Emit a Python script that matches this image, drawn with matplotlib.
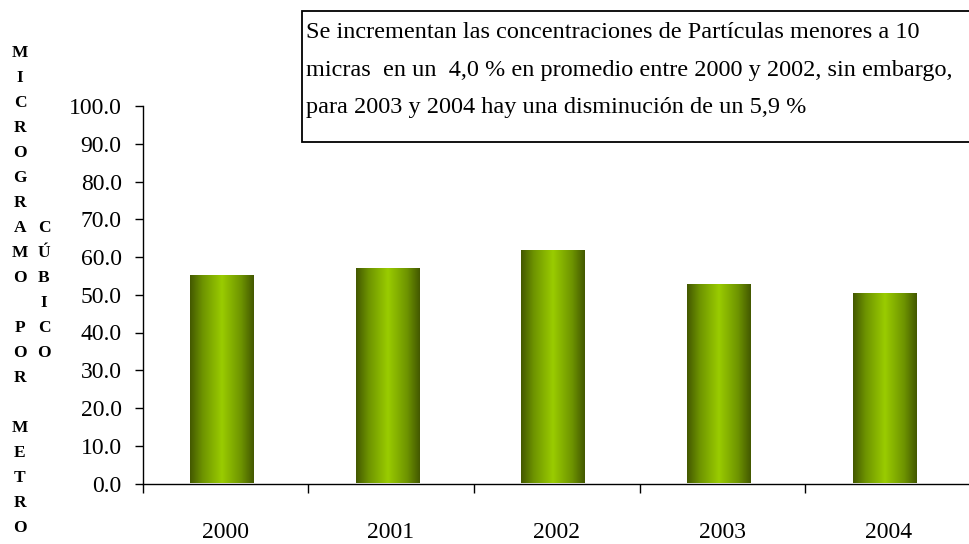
import numpy as np
import matplotlib
matplotlib.use("Agg")
import matplotlib.pyplot as plt
from matplotlib.colors import LinearSegmentedColormap
from matplotlib.patches import Rectangle

# datos
years = ["2000", "2001", "2002", "2003", "2004"]
pm10 = [55.2, 57.1, 61.9, 52.8, 50.4]
y_ticks = [0, 10, 20, 30, 40, 50, 60, 70, 80, 90, 100]
col1 = ["M", "I", "C", "R", "O", "G", "R", "A", "M", "O", "",
        "P", "O", "R", "", "M", "E", "T", "R", "O"]
col2 = ["C", "Ú", "B", "I", "C", "O"]
note_lines = [
    "Se incrementan las concentraciones de Partículas menores a 10",
    "micras  en un  4,0 % en promedio entre 2000 y 2002, sin embargo,",
    "para 2003 y 2004 hay una disminución de un 5,9 %",
]

plt.rcParams["font.family"] = ["Liberation Serif", "DejaVu Serif"]

W, H = 969, 544
fig = plt.figure(figsize=(W / 100, H / 100), dpi=100)
ax = fig.add_axes([142.5 / W, (H - 483.5) / H, (971 - 142.5) / W, (483.5 - 106) / H])

x = np.arange(len(years))
bars = ax.bar(x - 0.02, pm10, width=0.386, color="none", edgecolor="none")

# degradado verde tipo cilindro
cmap = LinearSegmentedColormap.from_list(
    "verde", [(0.0, "#435800"), (0.2, "#6e9400"), (0.5, "#9acc00"),
              (0.8, "#6e9400"), (1.0, "#435800")])
grad = np.linspace(0, 1, 256).reshape(1, -1)
for b in bars:
    x0, y0 = b.get_x(), b.get_y()
    im = ax.imshow(grad, cmap=cmap, aspect="auto", interpolation="bilinear",
                   extent=[x0, x0 + b.get_width(), y0, y0 + b.get_height()], zorder=2)
    im.set_clip_path(b)

ax.set_xlim(-0.5, len(years) - 0.5)
ax.set_ylim(0, 100)

ax.spines["top"].set_visible(False)
ax.spines["right"].set_visible(False)
ax.spines["left"].set_linewidth(1.0)
ax.spines["bottom"].set_linewidth(1.0)

ax.set_yticks(y_ticks)
ax.set_yticklabels([f"{v:.1f}" for v in y_ticks])
ax.tick_params(axis="y", direction="out", length=6, width=1, pad=9, labelsize=17)

ax.set_xticks(x)
ax.set_xticklabels(years)
ax.set_xticks(np.arange(len(years) + 1) - 0.5, minor=True)
ax.tick_params(axis="x", which="major", length=0, pad=28, labelsize=17)
ax.tick_params(axis="x", which="minor", direction="out", length=6.5, width=1)

# etiqueta vertical letra por letra
top, step = 53, 25.0
for i, ch in enumerate(col1):
    fig.text(20 / W, 1 - (top + i * step) / H, ch, ha="center", va="center",
             fontsize=12.5, fontweight="bold")
for i, ch in enumerate(col2):
    fig.text(44 / W, 1 - (top + (i + 7) * step) / H, ch, ha="center", va="center",
             fontsize=12.5, fontweight="bold")

# cuadro de texto
fig.patches.append(Rectangle((302 / W, (H - 142) / H), (980 - 302) / W, 131 / H,
                             transform=fig.transFigure, facecolor="white",
                             edgecolor="black", linewidth=1.3))
for i, line in enumerate(note_lines):
    fig.text(306 / W, 1 - (33 + i * 37.5) / H, line, ha="left", va="center",
             fontsize=17.5)

fig.savefig("out.png", dpi=100)
